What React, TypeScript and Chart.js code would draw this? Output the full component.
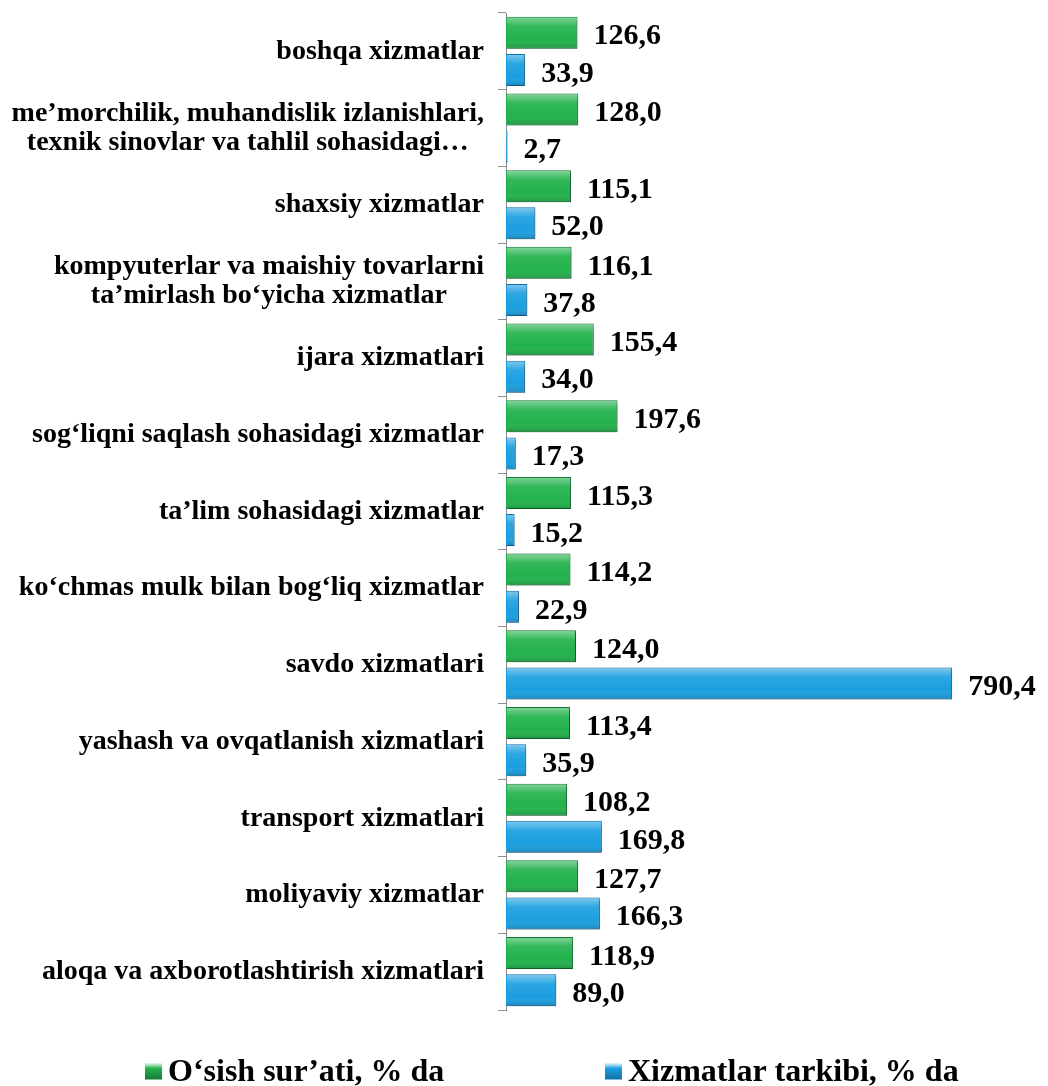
import React, { useEffect, useRef } from "react";
import { Chart, registerables } from "chart.js";

Chart.register(...registerables);

const categories: string[][] = [
  ["boshqa xizmatlar"],
  ["me’morchilik, muhandislik izlanishlari,", "texnik sinovlar va tahlil sohasidagi…"],
  ["shaxsiy xizmatlar"],
  ["kompyuterlar va maishiy tovarlarni", "ta’mirlash bo‘yicha xizmatlar"],
  ["ijara xizmatlari"],
  ["sog‘liqni saqlash sohasidagi xizmatlar"],
  ["ta’lim sohasidagi xizmatlar"],
  ["ko‘chmas mulk bilan bog‘liq xizmatlar"],
  ["savdo xizmatlari"],
  ["yashash va ovqatlanish xizmatlari"],
  ["transport xizmatlari"],
  ["moliyaviy xizmatlar"],
  ["aloqa va axborotlashtirish xizmatlari"],
];

const growthValues: number[] = [126.6, 128.0, 115.1, 116.1, 155.4, 197.6, 115.3, 114.2, 124.0, 113.4, 108.2, 127.7, 118.9];
const structureValues: number[] = [33.9, 2.7, 52.0, 37.8, 34.0, 17.3, 15.2, 22.9, 790.4, 35.9, 169.8, 166.3, 89.0];

const seriesNames: string[] = ["O‘sish sur’ati, % da", "Xizmatlar tarkibi, % da"];
const seriesColors = ["#22b24c", "#1b9fe0"];
const seriesBorders = ["#137a35", "#126fa6"];

const FONT = '"Liberation Serif", "Times New Roman", serif';

const fmt = (v: number) => v.toFixed(1).replace(".", ",");

const decorPlugin = {
  id: "decor",
  beforeDatasetsDraw(chart: any) {
    const ctx = chart.ctx;
    ctx.save();
    ctx.shadowColor = "rgba(0,0,0,0.3)";
    ctx.shadowOffsetX = 2;
    ctx.shadowOffsetY = 2;
    ctx.shadowBlur = 3;
  },
  afterDatasetsDraw(chart: any) {
    const ctx = chart.ctx;
    ctx.restore();
    ctx.save();
    chart.data.datasets.forEach((ds: any, di: number) => {
      const meta = chart.getDatasetMeta(di);
      meta.data.forEach((el: any) => {
        const p = el.getProps(["x", "y", "base", "height"], true);
        const top = p.y - p.height / 2;
        const left = Math.min(p.x, p.base);
        const w = Math.abs(p.x - p.base);
        if (w < 1) return;
        const g = ctx.createLinearGradient(0, top, 0, top + p.height);
        g.addColorStop(0, "rgba(255,255,255,0.45)");
        g.addColorStop(0.3, "rgba(255,255,255,0.08)");
        g.addColorStop(0.7, "rgba(255,255,255,0)");
        g.addColorStop(1, "rgba(0,0,0,0.18)");
        ctx.fillStyle = g;
        ctx.fillRect(left + 1, top + 1, w - 2, p.height - 2);
      });
    });
    ctx.restore();
  },
  afterDraw(chart: any) {
    const ctx = chart.ctx;
    const yScale = chart.scales.y;
    const area = chart.chartArea;
    ctx.save();
    ctx.fillStyle = "#000";
    ctx.textBaseline = "middle";
    // category labels
    ctx.font = `bold 28px ${FONT}`;
    ctx.textAlign = "center";
    categories.forEach((lines, i) => {
      const cy = yScale.getPixelForValue(i);
      const maxW = Math.max(...lines.map((l) => ctx.measureText(l).width));
      const cx = area.left - 22 - maxW / 2;
      lines.forEach((l, j) => {
        ctx.fillText(l, cx, cy + (j - (lines.length - 1) / 2) * 29);
      });
    });
    // value labels
    ctx.font = `bold 30px ${FONT}`;
    ctx.textAlign = "left";
    chart.data.datasets.forEach((ds: any, di: number) => {
      const meta = chart.getDatasetMeta(di);
      meta.data.forEach((el: any, i: number) => {
        const p = el.getProps(["x", "y"], true);
        ctx.fillText(fmt(ds.data[i]), p.x + 16, p.y + 4);
      });
    });
    // legend
    ctx.font = `bold 32px ${FONT}`;
    const box = 17;
    const gapBoxText = 6;
    const legendX = [137, 597];
    const ly = chart.height - 15;
    seriesNames.forEach((n, i) => {
      const x = legendX[i];
      const g = ctx.createLinearGradient(0, ly - box / 2, 0, ly + box / 2);
      g.addColorStop(0, "#ffffff");
      g.addColorStop(0.35, seriesColors[i]);
      g.addColorStop(1, seriesBorders[i]);
      ctx.fillStyle = g;
      ctx.fillRect(x, ly - box / 2, box, box);
      ctx.fillStyle = "#000";
      ctx.fillText(n, x + box + gapBoxText, ly + 2);
    });
    ctx.restore();
  },
};

export default function App() {
  const ref = useRef<HTMLCanvasElement | null>(null);
  useEffect(() => {
    if (!ref.current) return;
    const chart = new Chart(ref.current, {
      type: "bar",
      data: {
        labels: categories.map((c) => c.join(" ")),
        datasets: [
          {
            label: seriesNames[0],
            data: growthValues,
            backgroundColor: seriesColors[0],
            borderColor: seriesBorders[0],
            borderWidth: 1,
            categoryPercentage: 0.97,
            barPercentage: 0.86,
          },
          {
            label: seriesNames[1],
            data: structureValues,
            backgroundColor: seriesColors[1],
            borderColor: seriesBorders[1],
            borderWidth: 1,
            categoryPercentage: 0.97,
            barPercentage: 0.86,
          },
        ],
      },
      options: {
        indexAxis: "y",
        animation: false,
        responsive: true,
        maintainAspectRatio: false,
        layout: { padding: { top: 5, bottom: 76, left: 0, right: 26 } },
        plugins: {
          legend: { display: false },
          tooltip: { enabled: false },
        },
        scales: {
          x: { display: false, min: 0, max: 900 },
          y: {
            ticks: { display: false },
            grid: { drawOnChartArea: false, drawTicks: true, tickLength: 8, color: "#8c8c8c", offset: true },
            border: { display: true, color: "#8c8c8c" },
            afterFit: (scale: any) => {
              scale.width = 498;
            },
          },
        },
      },
      plugins: [decorPlugin],
    } as any);
    return () => chart.destroy();
  }, []);
  return (
    <div style={{ width: 1032, height: 1078, position: "relative" }}>
      <canvas ref={ref} />
    </div>
  );
}
